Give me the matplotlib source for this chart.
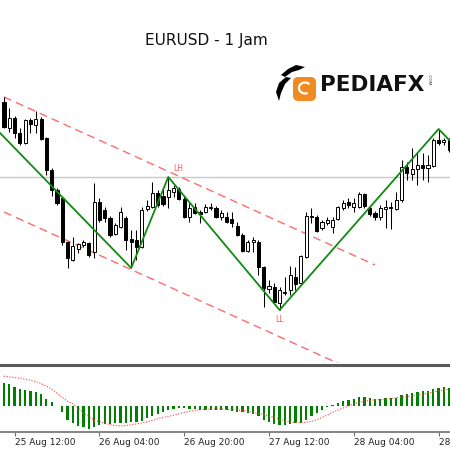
import matplotlib
matplotlib.use("Agg")
import matplotlib.pyplot as plt
from matplotlib.patches import Rectangle, FancyBboxPatch, Polygon, Arc

# EURUSD H1 candles, 25 Aug 10:00 .. 28 Aug 14:00
opens = [1.19190, 1.19060, 1.19110, 1.19035, 1.18985, 1.19100, 1.19075, 1.19105, 1.19010, 1.18850,
         1.18750, 1.18710, 1.18490, 1.18400, 1.18455, 1.18475, 1.18485, 1.18440, 1.18690, 1.18650,
         1.18610, 1.18530, 1.18565, 1.18610, 1.18505, 1.18500, 1.18465, 1.18655, 1.18665, 1.18735,
         1.18720, 1.18715, 1.18740, 1.18755, 1.18705, 1.18615, 1.18665, 1.18640, 1.18640, 1.18660,
         1.18660, 1.18615, 1.18615, 1.18605, 1.18570, 1.18525, 1.18445, 1.18490, 1.18490, 1.18365,
         1.18255, 1.18265, 1.18185, 1.18235, 1.18250, 1.18315, 1.18285, 1.18415, 1.18615, 1.18615,
         1.18560, 1.18585, 1.18565, 1.18605, 1.18660, 1.18690, 1.18665, 1.18665, 1.18730, 1.18660,
         1.18635, 1.18615, 1.18655, 1.18665, 1.18655, 1.18700, 1.18865, 1.18830, 1.18855, 1.18875,
         1.18860, 1.18870, 1.19000, 1.18990, 1.19000]
highs = [1.19215, 1.19160, 1.19120, 1.19060, 1.19105, 1.19110, 1.19145, 1.19115, 1.19015, 1.18860,
         1.18760, 1.18715, 1.18495, 1.18515, 1.18485, 1.18500, 1.18490, 1.18785, 1.18710, 1.18665,
         1.18620, 1.18585, 1.18665, 1.18620, 1.18550, 1.18550, 1.18665, 1.18700, 1.18790, 1.18750,
         1.18765, 1.18815, 1.18775, 1.18765, 1.18720, 1.18685, 1.18685, 1.18650, 1.18680, 1.18685,
         1.18670, 1.18650, 1.18640, 1.18640, 1.18590, 1.18535, 1.18500, 1.18515, 1.18500, 1.18370,
         1.18300, 1.18285, 1.18265, 1.18315, 1.18370, 1.18365, 1.18425, 1.18640, 1.18660, 1.18625,
         1.18600, 1.18615, 1.18615, 1.18670, 1.18700, 1.18710, 1.18710, 1.18740, 1.18735, 1.18670,
         1.18645, 1.18675, 1.18700, 1.18690, 1.18740, 1.18900, 1.18890, 1.18960, 1.18940, 1.18935,
         1.18925, 1.19010, 1.19055, 1.19010, 1.19010]
lows = [1.19060, 1.19040, 1.19010, 1.18975, 1.18980, 1.19035, 1.19035, 1.19000, 1.18825, 1.18720,
        1.18675, 1.18475, 1.18360, 1.18395, 1.18435, 1.18465, 1.18415, 1.18410, 1.18590, 1.18590,
        1.18515, 1.18525, 1.18560, 1.18450, 1.18360, 1.18400, 1.18460, 1.18645, 1.18660, 1.18665,
        1.18670, 1.18660, 1.18715, 1.18700, 1.18610, 1.18590, 1.18630, 1.18585, 1.18635, 1.18650,
        1.18610, 1.18600, 1.18585, 1.18565, 1.18520, 1.18440, 1.18440, 1.18440, 1.18325, 1.18165,
        1.18235, 1.18185, 1.18150, 1.18225, 1.18225, 1.18250, 1.18275, 1.18410, 1.18585, 1.18540,
        1.18550, 1.18575, 1.18535, 1.18600, 1.18650, 1.18660, 1.18640, 1.18660, 1.18660, 1.18620,
        1.18600, 1.18600, 1.18560, 1.18555, 1.18650, 1.18690, 1.18800, 1.18800, 1.18775, 1.18800,
        1.18790, 1.18865, 1.18975, 1.18975, 1.18940]
closes = [1.19065, 1.19110, 1.19035, 1.18985, 1.19100, 1.19080, 1.19105, 1.19005, 1.18850, 1.18750,
          1.18685, 1.18490, 1.18410, 1.18470, 1.18480, 1.18490, 1.18425, 1.18690, 1.18600, 1.18610,
          1.18525, 1.18575, 1.18640, 1.18500, 1.18490, 1.18465, 1.18650, 1.18670, 1.18735, 1.18675,
          1.18680, 1.18750, 1.18760, 1.18705, 1.18615, 1.18660, 1.18635, 1.18630, 1.18665, 1.18665,
          1.18615, 1.18635, 1.18590, 1.18585, 1.18525, 1.18445, 1.18490, 1.18500, 1.18365, 1.18260,
          1.18270, 1.18190, 1.18250, 1.18240, 1.18325, 1.18280, 1.18420, 1.18620, 1.18620, 1.18545,
          1.18590, 1.18600, 1.18600, 1.18665, 1.18685, 1.18675, 1.18685, 1.18730, 1.18670, 1.18630,
          1.18615, 1.18660, 1.18665, 1.18660, 1.18700, 1.18865, 1.18835, 1.18855, 1.18875, 1.18860,
          1.18875, 1.19000, 1.18985, 1.19000, 1.18950]

# MACD histogram and signal (x 1e-5)
macd_hist = [66, 63, 56, 48, 46, 42, 40, 33, 20, 10,
             -2, -20, -42, -52, -60, -64, -70, -62, -57, -54,
             -54, -52, -50, -50, -48, -48, -46, -38, -30, -24,
             -18, -14, -10, -8, -8, -10, -10, -12, -12, -12,
             -12, -14, -14, -16, -18, -20, -22, -24, -32, -42,
             -47, -54, -58, -56, -54, -52, -52, -42, -32, -22,
             -12, -4, 2, 8, 13, 18, 20, 26, 26, 23,
             20, 20, 23, 23, 23, 30, 33, 38, 40, 43,
             44, 48, 53, 56, 53]
macd_signal = [87, 85, 83, 81, 78, 75, 71, 65, 58, 48,
               37, 24, 13, 5, -7, -22, -32, -43, -47, -52,
               -56, -59, -60, -59, -57, -54, -51, -48, -44, -39,
               -35, -32, -28, -24, -20, -17, -14, -12, -11, -10,
               -10, -10, -11, -12, -13, -15, -17, -20, -23, -27,
               -31, -36, -41, -45, -48, -50, -50, -49, -47, -42,
               -35, -28, -20, -13, -7, -1, 5, 9, 13, 15,
               17, 18, 19, 21, 23, 25, 27, 29, 31, 34,
               37, 40, 43, 46, 49]

# zigzag swing points (bar index, price) and channel lines
zigzag_idx = [-1, 24, 31, 52, 82, 84]
zigzag_px = [1.19042, 1.18360, 1.18815, 1.18150, 1.19055, 1.19000]
upper_idx = [0, 70]
upper_px = [1.19215, 1.18375]
lower_idx = [0, 65]
lower_px = [1.18640, 1.17860]
price_line = 1.18815

tick_idx = [2, 18, 34, 50, 66, 82]
tick_labels = ["25 Aug 12:00", "26 Aug 04:00", "26 Aug 20:00", "27 Aug 12:00", "28 Aug 04:00", "28 Aug 12:00"]

fig = plt.figure(figsize=(4.5, 4.5), dpi=100)
fig.patch.set_facecolor("white")

W = H = 450.0
def fx(x):
    return x / W
def fy(y):
    return 1 - y / H

# main price pane
ax = fig.add_axes([0, fy(363), 1, 363 / H])
ax.set_xlim(-0.75, 84.15)
ax.set_ylim(1.17885, 1.19700)
for s in ax.spines.values():
    s.set_visible(False)
ax.set_xticks([])
ax.set_yticks([])

ax.axhline(price_line, color="#c8c8c8", lw=1, zorder=1)

for i in range(len(opens)):
    o, h, l, c = opens[i], highs[i], lows[i], closes[i]
    ax.vlines(i, l, h, color="black", lw=0.75, zorder=3)
    bottom = min(o, c)
    height = max(abs(c - o), 0.00003)
    fc = "white" if c > o else "black"
    ax.add_patch(Rectangle((i - 0.29, bottom), 0.58, height, facecolor=fc,
                           edgecolor="black", lw=0.7, zorder=4))

ax.plot(upper_idx, upper_px, color="#ff6b6b", lw=1, dashes=(5.8, 3.6), zorder=2)
ax.plot(lower_idx, lower_px, color="#ff6b6b", lw=1, dashes=(5.8, 3.6), zorder=2)
ax.plot(zigzag_idx, zigzag_px, color="#108a10", lw=1.3, zorder=5)

ax.text(32.8, 1.18858, "LH", color="#ff5a5a", fontsize=5.5, ha="center", va="center")
ax.text(51.9, 1.18100, "LL", color="#ff5a5a", fontsize=5.5, ha="center", va="center")

# indicator pane
ax2 = fig.add_axes([0, fy(432), 1, 67 / H])
ax2.set_xlim(-0.75, 84.15)
ax2.set_ylim(-78, 120)
xs = list(range(len(macd_hist)))
ax2.bar(xs, macd_hist, width=0.42, color="#008000", zorder=2)
ax2.plot(xs, macd_signal, color="#ff4040", lw=0.8, linestyle=(0, (1, 1.5)), zorder=3)
for k in ["left", "right"]:
    ax2.spines[k].set_visible(False)
ax2.spines["top"].set_color("#5a5a5a")
ax2.spines["top"].set_linewidth(2.2)
ax2.spines["bottom"].set_color("#707070")
ax2.spines["bottom"].set_linewidth(1.2)
ax2.set_yticks([])
ax2.set_xticks(tick_idx)
ax2.set_xticklabels(tick_labels, ha="left", fontsize=6.5, color="#222222")
ax2.tick_params(axis="x", length=3, width=0.8, color="#707070", pad=1.5)
for t in ax2.get_xticklabels():
    t.set_x(0)

# title and logo
fig.text(fx(206), fy(41), "EURUSD - 1 Jam", fontsize=11, ha="center", va="center", color="#111111")
fig.text(fx(320), fy(85), "PEDIAFX", fontsize=15.5, fontweight="bold", ha="left", va="center", color="#111111")
fig.text(fx(429), fy(80), ".COM", fontsize=3.2, rotation=270, ha="center", va="center", color="#333333")

box = FancyBboxPatch((fx(293), fy(101)), fx(23), fx(24), boxstyle="round,pad=0,rounding_size=0.012",
                     transform=fig.transFigure, facecolor="#f28a22", edgecolor="none")
fig.add_artist(box)
fig.add_artist(Arc((fx(305), fy(88)), fx(12), fx(11), theta1=40, theta2=300,
                   transform=fig.transFigure, color="white", lw=1.6))
fig.add_artist(Polygon([(fx(281), fy(75)), (fx(288), fy(69)), (fx(296), fy(65)), (fx(305), fy(67)),
                        (fx(299), fy(70)), (fx(292), fy(72)), (fx(285), fy(77))],
                       closed=True, transform=fig.transFigure, facecolor="black", edgecolor="none"))
fig.add_artist(Polygon([(fx(276), fy(92)), (fx(279), fy(83)), (fx(286), fy(77)), (fx(291), fy(78)),
                        (fx(285), fy(84)), (fx(281), fy(93)), (fx(279), fy(101))],
                       closed=True, transform=fig.transFigure, facecolor="black", edgecolor="none"))

fig.savefig("out.png", dpi=100)
